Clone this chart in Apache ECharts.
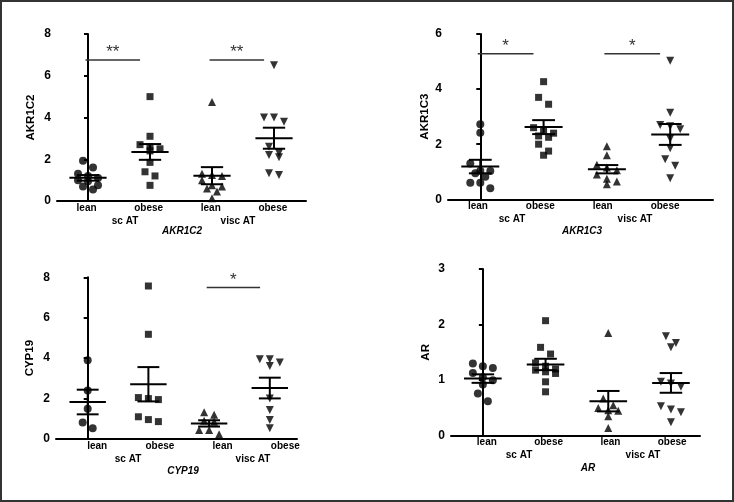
<!DOCTYPE html>
<html><head><meta charset="utf-8">
<script src="https://cdn.jsdelivr.net/npm/echarts@6/dist/echarts.min.js"></script>
<style>html,body{margin:0;padding:0;background:#fff}#c{width:734px;height:502px}</style>
</head><body><div id="c"></div>
<script>
// ---------- data ----------
const groupLabels = ['lean', 'obese', 'lean', 'obese'];
const depotLabels = ['sc AT', 'visc AT'];
const panelNames = ['AKR1C2', 'AKR1C3', 'CYP19', 'AR'];
const yMaxes = [8, 6, 8, 3];
const ySteps = [2, 2, 2, 1];

// groups: sc lean, sc obese, visc lean, visc obese
const akr1c2 = [
  [1.93, 1.6, 1.3, 1.2, 1.1, 1.0, 0.95, 0.75, 0.7, 0.55],
  [5.0, 3.1, 2.7, 2.6, 2.5, 2.4, 1.85, 1.4, 1.2, 0.75],
  [4.74, 1.3, 1.25, 1.2, 1.0, 0.75, 0.7, 0.6, 0.45, 0.13],
  [6.5, 4.0, 4.0, 3.8, 2.6, 2.3, 2.2, 2.1, 1.33, 1.25]
];
const akr1c3 = [
  [2.72, 2.42, 1.3, 1.04, 1.03, 0.95, 0.82, 0.6, 0.6, 0.4],
  [4.27, 3.7, 3.45, 2.6, 2.5, 2.4, 2.3, 2.25, 2.0, 1.75, 1.6],
  [1.93, 1.6, 1.25, 1.15, 1.05, 0.9, 0.75, 0.65, 0.55],
  [5.03, 3.14, 2.7, 2.65, 2.54, 2.2, 1.85, 1.45, 1.22, 0.76]
];
const cyp19 = [
  [3.9, 2.4, 1.5, 0.82, 0.53],
  [7.57, 5.18, 2.05, 2.0, 1.95, 1.1, 0.96, 0.86],
  [1.32, 1.2, 0.9, 0.85, 0.45, 0.45, 0.23],
  [3.94, 3.94, 3.78, 3.61, 2.0, 1.43, 0.94, 0.53]
];
const arData = [
  [1.3, 1.25, 1.22, 1.13, 1.05, 1.0, 0.92, 0.76, 0.62],
  [2.07, 1.59, 1.47, 1.31, 1.25, 1.2, 1.18, 1.15, 1.12, 0.97, 0.79],
  [1.85, 0.67, 0.55, 0.5, 0.46, 0.45, 0.35, 0.14],
  [1.79, 1.67, 1.59, 0.97, 0.94, 0.88, 0.53, 0.47, 0.42, 0.24]
];
// significance: [fromGroup, toGroup, level, mark]
const sigAKR1C2 = [[0, 1, 6.75, '**'], [2, 3, 6.75, '**']];
const sigAKR1C3 = [[0, 1, 5.28, '*'], [2, 3, 5.28, '*']];
const sigCYP19 = [[2, 3, 7.5, '*']];
const sigAR = [];

const panelData = [akr1c2, akr1c3, cyp19, arData];
const panelSig = [sigAKR1C2, sigAKR1C3, sigCYP19, sigAR];

// ---------- layout ----------
const FONT = '"Liberation Sans", Arial, Helvetica, sans-serif';
const layout = [
  {grid: {left: 57, top: 34, width: 249, height: 167}, xr: [-0.5, 3.516], lab: {left: 55.5, width: 248.4}, dep: {left: 68.5, width: 226}, nameX: 182, nameY: 231.5, yGap: 20},
  {grid: {left: 448, top: 34, width: 265, height: 165.3}, xr: [-0.51, 3.676], lab: {left: 446.7, width: 249.6}, dep: {left: 450.5, width: 246}, nameX: 582, nameY: 231.5, yGap: 17},
  {grid: {left: 56, top: 277.3, width: 241, height: 161.7}, xr: [-0.522, 3.448], lab: {left: 65.85, width: 250.8}, dep: {left: 65.5, width: 250}, nameX: 183, nameY: 471, yGap: 20},
  {grid: {left: 451, top: 269, width: 249, height: 166.7}, xr: [-0.508, 3.463], lab: {left: 455.9, width: 247.2}, dep: {left: 457, width: 248}, nameX: 588, nameY: 468, yGap: 19}
];
const symbols = ['circle', 'rect', 'triangle', 'triangle'];
const rotations = [0, 0, 0, 180];
const sizes = [8, 7, 8, 8];

// row-binned spread (dot-plot style): points whose values fall in the same
// pixel row are placed side by side, symmetric about the group centre
function spread(vals, pyu, pxu, binPx, stepPx) {
  const order = vals.map((v, i) => i).sort((a, b) => vals[b] - vals[a]);
  const off = new Array(vals.length).fill(0);
  let row = [];
  const flush = () => {
    row.forEach((i, j) => { off[i] = ((j - (row.length - 1) / 2) * stepPx) / pxu; });
    row = [];
  };
  order.forEach(i => {
    if (row.length && ((vals[row[0]] - vals[i]) * pyu > binPx || row.length >= 3)) flush();
    row.push(i);
  });
  flush();
  return off;
}
function stats(a) {
  const n = a.length, m = a.reduce((s, v) => s + v, 0) / n;
  const sd = Math.sqrt(a.reduce((s, v) => s + (v - m) * (v - m), 0) / (n - 1));
  return [m, sd / Math.sqrt(n)];
}

const grids = [], xAxes = [], yAxes = [], series = [], graphics = [];
const boldLabel = {fontFamily: FONT, fontWeight: 'bold', color: '#000'};

layout.forEach((L, p) => {
  const g0 = grids.length;
  grids.push(Object.assign({containLabel: false}, L.grid));
  grids.push({left: L.lab.left, width: L.lab.width, top: L.grid.top, height: L.grid.height});
  grids.push({left: L.dep.left, width: L.dep.width, top: L.grid.top, height: L.grid.height});
  xAxes.push({gridIndex: g0, type: 'value', min: L.xr[0], max: L.xr[1],
    axisLine: {show: true, onZero: false, lineStyle: {color: '#000', width: 2}},
    axisTick: {show: false}, axisLabel: {show: false}, splitLine: {show: false}});
  xAxes.push({gridIndex: g0 + 1, type: 'category', data: groupLabels, boundaryGap: true,
    axisLine: {show: false}, axisTick: {show: false}, splitLine: {show: false},
    axisLabel: Object.assign({margin: 2, fontSize: 10, interval: 0}, boldLabel)});
  xAxes.push({gridIndex: g0 + 2, type: 'category', data: depotLabels, boundaryGap: true,
    axisLine: {show: false}, axisTick: {show: false}, splitLine: {show: false},
    axisLabel: Object.assign({margin: 15, fontSize: 10, interval: 0}, boldLabel)});
  yAxes.push({gridIndex: g0, type: 'value', min: 0, max: yMaxes[p], interval: ySteps[p],
    name: panelNames[p], nameLocation: 'middle', nameGap: L.yGap, nameRotate: 90,
    nameTextStyle: {fontFamily: FONT, fontWeight: 'bold', fontSize: 11.5, color: '#000'},
    axisLine: {show: true, lineStyle: {color: '#000', width: 2}},
    axisTick: {show: true, length: 4, lineStyle: {color: '#000', width: 2}},
    axisLabel: Object.assign({margin: 6, fontSize: 12}, boldLabel),
    splitLine: {show: false}});
  yAxes.push({gridIndex: g0 + 1, type: 'value', min: 0, max: 1, show: false});
  yAxes.push({gridIndex: g0 + 2, type: 'value', min: 0, max: 1, show: false});

  const pyu = L.grid.height / yMaxes[p];
  const pxu = L.grid.width / (L.xr[1] - L.xr[0]);
  const xi = g0, yi = g0;
  const summary = [];
  panelData[p].forEach((vals, gi) => {
    const off = spread(vals, pyu, pxu, 8, 10);
    series.push({type: 'scatter', xAxisIndex: xi, yAxisIndex: yi, symbol: symbols[gi],
      symbolRotate: rotations[gi], symbolSize: sizes[gi], z: 3, silent: true,
      itemStyle: {color: '#000'},
      data: vals.map((v, k) => [gi + off[k], v])});
    const s = stats(vals);
    summary.push([gi, s[0], s[1]]);
  });
  series.push({type: 'custom', xAxisIndex: xi, yAxisIndex: yi, z: 4, silent: true, data: summary,
    renderItem: function (params, api) {
      const gi = api.value(0), m = api.value(1), s = api.value(2);
      const c = api.coord([gi, m]), t = api.coord([gi, m + s]), b = api.coord([gi, m - s]);
      const hw = api.size([0.3, 0])[0], cw = api.size([0.18, 0])[0];
      const st = {stroke: '#000', lineWidth: 2};
      return {type: 'group', children: [
        {type: 'line', shape: {x1: c[0] - hw, y1: c[1], x2: c[0] + hw, y2: c[1]}, style: st},
        {type: 'line', shape: {x1: t[0], y1: t[1], x2: b[0], y2: b[1]}, style: st},
        {type: 'line', shape: {x1: t[0] - cw, y1: t[1], x2: t[0] + cw, y2: t[1]}, style: st},
        {type: 'line', shape: {x1: b[0] - cw, y1: b[1], x2: b[0] + cw, y2: b[1]}, style: st}
      ]};
    }});
  if (panelSig[p].length) {
    series.push({type: 'custom', xAxisIndex: xi, yAxisIndex: yi, z: 4, silent: true,
      data: panelSig[p].map(d => [d[0], d[1], d[2]]),
      renderItem: function (params, api) {
        const a = api.coord([api.value(0) - 0.04, api.value(2)]);
        const b = api.coord([api.value(1) - 0.16, api.value(2)]);
        const mark = panelSig[p][params.dataIndex][3];
        return {type: 'group', children: [
          {type: 'line', shape: {x1: a[0], y1: a[1], x2: b[0], y2: b[1]}, style: {stroke: '#333', lineWidth: 1.5}},
          {type: 'text', style: {text: mark, x: (a[0] + b[0]) / 2, y: a[1] - 7.5, align: 'center', verticalAlign: 'middle',
            fontSize: 17, fontFamily: FONT, fill: '#333'}}
        ]};
      }});
  }
  graphics.push({type: 'text', x: L.nameX, y: L.nameY,
    style: {text: panelNames[p], align: 'center', verticalAlign: 'middle', fontSize: 10,
      fontStyle: 'italic', fontWeight: 'bold', fontFamily: FONT, fill: '#000'}});
});
graphics.push({type: 'rect', shape: {x: 1, y: 1, width: 732, height: 500},
  style: {fill: null, stroke: '#333', lineWidth: 2}, z: 100});

const chart = echarts.init(document.getElementById('c'), null, {renderer: 'canvas'});
chart.setOption({
  animation: false,
  backgroundColor: '#fff',
  textStyle: {fontFamily: FONT},
  grid: grids, xAxis: xAxes, yAxis: yAxes, series: series, graphic: graphics
});
</script></body></html>
